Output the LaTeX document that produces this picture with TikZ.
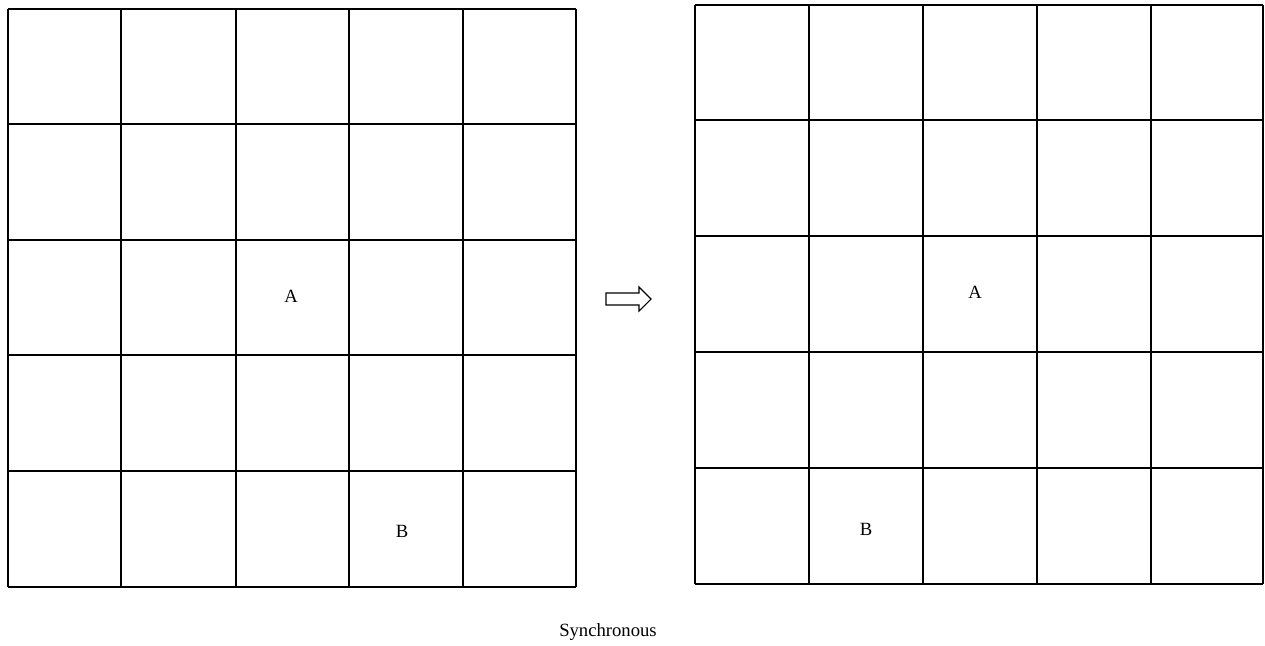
\documentclass[tikz,border=0pt]{standalone}
\usepackage{fontspec}
\setmainfont{Liberation Serif}
\begin{document}
\begin{tikzpicture}[x=0.75pt,y=-0.75pt,
  gridline/.style={line width=1.2pt,black},
  cell/.style={font=\fontsize{14}{16}\selectfont,inner sep=0pt},
  caption/.style={font=\fontsize{14}{16}\selectfont,inner sep=0pt},
  hollowarrow/.style={line width=0.8pt,black}]
\useasboundingbox (0,0) rectangle (1265,646);
% left grid
\foreach \x in {8,121,236,349,463,576}
  \draw[gridline] (\x,9) -- (\x,587);
\foreach \y in {9,124,240,355,471,587}
  \draw[gridline] (8,\y) -- (576,\y);
% right grid
\foreach \x in {695,809,923,1037,1151,1263}
  \draw[gridline] (\x,5) -- (\x,584);
\foreach \y in {5,120,236,352,468,584}
  \draw[gridline] (695,\y) -- (1263,\y);
\node[cell] (lA) at (291,296) {A};
\node[cell] (lB) at (402,531) {B};
\node[cell] (rA) at (975,292) {A};
\node[cell] (rB) at (866,529) {B};
\draw[hollowarrow] (606,293) -- (639,293) -- (639,287) -- (651,299) -- (639,311) -- (639,305) -- (606,305) -- cycle;
\node[caption] (cap) at (608,632) {Synchronous};
\end{tikzpicture}
\end{document}
